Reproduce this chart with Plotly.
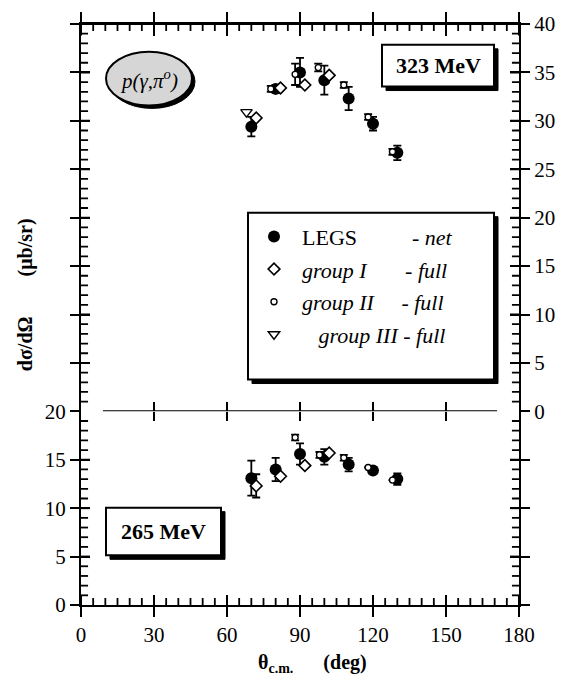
import plotly.graph_objects as go

# ---------------- data ----------------
# 323 MeV (upper panel)
legs323_x = [70, 80, 90, 100, 110, 120, 130]
legs323_y = [29.4, 33.3, 35.0, 34.2, 32.3, 29.7, 26.7]
legs323_e = [1.0, 0.4, 1.5, 1.5, 1.2, 0.7, 0.75]
g1_323_x = [72, 82, 92, 102]
g1_323_y = [30.3, 33.4, 33.7, 34.7]
g2_323_x = [78, 88, 97.5, 108, 118, 128]
g2_323_y = [33.3, 34.8, 35.5, 33.7, 30.4, 26.8]
g2_323_e = [0.3, 1.1, 0.4, 0.3, 0.3, 0.3]
g3_323_x = [68]
g3_323_y = [30.9]

# 265 MeV (lower panel)
legs265_x = [70, 80, 90, 100, 110, 120, 130]
legs265_y = [13.1, 14.0, 15.6, 15.3, 14.5, 13.9, 13.0]
legs265_e = [1.8, 1.2, 1.1, 0.8, 0.7, 0.3, 0.6]
g1_265_x = [72, 82, 92, 102]
g1_265_y = [12.3, 13.3, 14.4, 15.7]
g1_265_e = [1.2, 0.0, 0.0, 0.0]
g2_265_x = [88, 98, 108, 118, 128]
g2_265_y = [17.3, 15.5, 15.2, 14.2, 12.9]
g2_265_e = [0.3, 0.3, 0.3, 0.0, 0.0]

mid_ticks = [30, 60, 90, 120, 150]
x_major = [0, 30, 60, 90, 120, 150, 180]

# ---------------- geometry helpers (pixel -> paper) ----------------
W, H = 570, 681
L, R, T, B = 81, 519, 20, 605


def px(x):
    return (x - L) / (R - L)


def py(y):
    return (B - y) / (B - T)


FONT = "Liberation Serif"
BLACK = "black"
NB = "\u00a0"

fig = go.Figure()

err_style = dict(type="data", thickness=1.8, width=4, color=BLACK)

# LEGS
fig.add_trace(go.Scatter(x=legs323_x, y=legs323_y, xaxis="x2", yaxis="y2", mode="markers",
                         name="LEGS" + NB * 10 + "<i>- net</i>", legendgroup="a",
                         marker=dict(symbol="circle", size=12, color=BLACK),
                         error_y=dict(array=legs323_e, **err_style)))
fig.add_trace(go.Scatter(x=legs265_x, y=legs265_y, xaxis="x", yaxis="y", mode="markers",
                         showlegend=False, legendgroup="a",
                         marker=dict(symbol="circle", size=12, color=BLACK),
                         error_y=dict(array=legs265_e, **err_style)))
# group I
dia = dict(symbol="diamond", size=9, color="white", line=dict(color=BLACK, width=1.6))
fig.add_trace(go.Scatter(x=g1_323_x, y=g1_323_y, xaxis="x2", yaxis="y2", mode="markers",
                         name="<i>group I" + NB * 7 + "- full</i>", legendgroup="b",
                         marker=dia))
fig.add_trace(go.Scatter(x=g1_265_x, y=g1_265_y, xaxis="x", yaxis="y", mode="markers",
                         showlegend=False, legendgroup="b", marker=dia,
                         error_y=dict(array=g1_265_e, **err_style)))
# group II
cir = dict(symbol="circle", size=6, color="white", line=dict(color=BLACK, width=1.4))
fig.add_trace(go.Scatter(x=g2_323_x, y=g2_323_y, xaxis="x2", yaxis="y2", mode="markers",
                         name="<i>group II" + NB * 5 + "- full</i>", legendgroup="c",
                         marker=cir, error_y=dict(array=g2_323_e, **err_style)))
fig.add_trace(go.Scatter(x=g2_265_x, y=g2_265_y, xaxis="x", yaxis="y", mode="markers",
                         showlegend=False, legendgroup="c", marker=cir,
                         error_y=dict(array=g2_265_e, **err_style)))
# group III
tri = dict(symbol="triangle-down", size=10, color="white", line=dict(color=BLACK, width=1.4))
fig.add_trace(go.Scatter(x=g3_323_x, y=g3_323_y, xaxis="x2", yaxis="y2", mode="markers",
                         name=NB * 3 + "<i>group III - full</i>", legendgroup="d", marker=tri))

# dummy traces to register the overlay axes (tick duplicates)
for xa, ya in [("x3", "y"), ("x", "y3"), ("x4", "y2"), ("x2", "y4"), ("x5", "y2"), ("x6", "y2")]:
    fig.add_trace(go.Scatter(x=[None], y=[None], xaxis=xa, yaxis=ya, showlegend=False,
                             hoverinfo="skip", mode="markers"))

x_minor = [v for v in range(5, 180, 5) if v % 30]
y_minor_lo = [v for v in range(1, 20) if v % 5]
y_minor_hi = [v for v in range(1, 40) if v % 5]
y_major_lo = [5, 10, 15]
y_major_hi = [5, 10, 15, 20, 25, 30, 35]


# inward tick marks drawn as one-sided constant error bars (lengths in axis units)
def tick_trace(xs, ys, xa, ya, direction, plus, minus, width):
    err = dict(type="constant", value=plus, valueminus=minus, symmetric=False,
               thickness=width, width=0, color=BLACK)
    kw = {"error_y": err} if direction == "v" else {"error_x": err}
    fig.add_trace(go.Scatter(x=xs, y=ys, xaxis=xa, yaxis=ya, mode="markers",
                             marker=dict(size=1, color="rgba(0,0,0,0)"), showlegend=False,
                             hoverinfo="skip", cliponaxis=False, **kw))


MIN_Y, MAJ_Y = 0.72, 0.95      # vertical tick lengths (axis units ~ 7 / 9 px)
MIN_X, MAJ_X = 2.9, 3.7        # horizontal tick lengths (deg ~ 7 / 9 px)
# bottom axis
tick_trace(x_minor, [0] * len(x_minor), "x", "y", "v", MIN_Y, 0, 1.8)
tick_trace(x_major, [0] * len(x_major), "x", "y", "v", MAJ_Y, 0, 2)
# lower panel left / right
tick_trace([0] * len(y_minor_lo), y_minor_lo, "x", "y", "h", MIN_X, 0, 1.8)
tick_trace([180] * len(y_minor_lo), y_minor_lo, "x", "y", "h", 0, MIN_X, 1.8)
tick_trace([0] * len(y_major_lo), y_major_lo, "x", "y", "h", MAJ_X, 0, 2)
tick_trace([180] * len(y_major_lo), y_major_lo, "x", "y", "h", 0, MAJ_X, 2)
# top border
tick_trace(x_minor, [40] * len(x_minor), "x2", "y2", "v", 0, MIN_Y, 1.8)
tick_trace(x_major, [40] * len(x_major), "x2", "y2", "v", 0, 1.2, 2)
# upper panel left / right
tick_trace([0] * len(y_minor_hi), y_minor_hi, "x2", "y2", "h", MIN_X, 0, 1.8)
tick_trace([180] * len(y_minor_hi), y_minor_hi, "x2", "y2", "h", 0, MIN_X, 1.8)
tick_trace([0] * len(y_major_hi), y_major_hi, "x2", "y2", "h", MAJ_X, 0, 2)
tick_trace([180] * len(y_major_hi), y_major_hi, "x2", "y2", "h", 0, MAJ_X, 2)
# middle separator (upward half)
tick_trace(mid_ticks, [0] * len(mid_ticks), "x2", "y2", "v", 0.9, 0, 1.6)

tickfont = dict(family=FONT, size=21, color=BLACK)
base = dict(showgrid=False, zeroline=False, tickcolor=BLACK, tickfont=tickfont)
ov = dict(showticklabels=False, showgrid=False, zeroline=False, tickcolor=BLACK)

xr = [0, 180]
fig.update_layout(
    width=W, height=H,
    margin=dict(l=L, r=W - R, t=T, b=H - B),
    plot_bgcolor="white", paper_bgcolor="white",
    font=dict(family=FONT, color=BLACK),
    # bottom axis with labels
    xaxis=dict(domain=[0, 1], anchor="y", range=xr, dtick=30, tick0=0, ticks="outside",
               ticklen=10, tickwidth=2, showline=True, linewidth=2, linecolor=BLACK, **base),
    xaxis3=dict(overlaying="x", anchor="y", range=xr, dtick=30, tick0=0, ticks="inside",
                ticklen=10, tickwidth=2, **ov),
    # middle separator ticks
    xaxis2=dict(domain=[0, 1], anchor="y2", range=xr, tickvals=mid_ticks, ticks="outside",
                ticklen=9, tickwidth=1.6, **ov),
    xaxis4=dict(overlaying="x2", anchor="y2", range=xr, tickvals=mid_ticks, ticks="inside",
                ticklen=9, tickwidth=1.6, **ov),
    # top border
    xaxis5=dict(overlaying="x2", anchor="y2", side="top", range=xr, dtick=30, tick0=0,
                ticks="outside", ticklen=10, tickwidth=2, showline=True, linewidth=2,
                linecolor=BLACK, **ov),
    xaxis6=dict(overlaying="x2", anchor="y2", side="top", range=xr, dtick=30, tick0=0,
                ticks="inside", ticklen=12, tickwidth=2, **ov),
    # lower panel y (labels left)
    yaxis=dict(domain=[0, 1 / 3], anchor="x", range=[0, 20], dtick=5, tick0=0, ticks="outside",
               ticklen=9, tickwidth=2, showline=True, linewidth=2, linecolor=BLACK,
               mirror="ticks", **base),
    yaxis3=dict(overlaying="y", anchor="x", range=[0, 20], dtick=5, tick0=0, ticks="inside",
                ticklen=9, tickwidth=2, mirror="ticks", **ov),
    # upper panel y (labels right)
    yaxis2=dict(domain=[1 / 3, 1], anchor="x2", side="right", range=[0, 40], dtick=5, tick0=0,
                ticks="outside", ticklen=9, tickwidth=2, showline=True, linewidth=2,
                linecolor=BLACK, mirror="ticks", **base),
    yaxis4=dict(overlaying="y2", anchor="x2", side="right", range=[0, 40], dtick=5, tick0=0,
                ticks="inside", ticklen=9, tickwidth=2, mirror="ticks", **ov),
    showlegend=True,
    legend=dict(x=px(246), y=py(213), xanchor="left", yanchor="top", bgcolor="rgba(0,0,0,0)",
                borderwidth=0, font=dict(family=FONT, size=22, color=BLACK), itemwidth=46,
                traceorder="grouped", tracegroupgap=1, itemclick=False, itemdoubleclick=False),
)

shapes = []
# middle separator line
shapes.append(dict(type="line", xref="x2", yref="y2", x0=9, x1=171, y0=0, y1=0,
                   line=dict(color=BLACK, width=2), layer="above"))
# top border overhang
shapes.append(dict(type="line", xref="paper", yref="paper", x0=px(70), x1=px(530), y0=1, y1=1,
                   line=dict(color=BLACK, width=2), layer="above"))


def shadow_box(x0, y0, x1, y1, off=4, kind="rect", fill="white"):
    shapes.append(dict(type=kind, xref="paper", yref="paper", x0=px(x0 + off), x1=px(x1 + off),
                       y0=py(y0 + off), y1=py(y1 + off), fillcolor=BLACK,
                       line=dict(color=BLACK, width=1), layer="below"))
    shapes.append(dict(type=kind, xref="paper", yref="paper", x0=px(x0), x1=px(x1),
                       y0=py(y0), y1=py(y1), fillcolor=fill,
                       line=dict(color=BLACK, width=2), layer="below"))


shadow_box(382, 41, 494, 83)          # 323 MeV
shadow_box(248, 210, 494, 378)        # legend box
shadow_box(106, 507, 221, 555)        # 265 MeV
shadow_box(106, 48, 192, 102, off=3, kind="circle", fill="#d6d6d6")  # reaction ellipse

fig.update_layout(shapes=shapes)

ann_base = dict(xref="paper", yref="paper", showarrow=False, xanchor="center", yanchor="middle")
ann = [
    dict(text="<b>323 MeV</b>", x=px(438), y=py(62), font=dict(family=FONT, size=22, color=BLACK),
         **ann_base),
    dict(text="<b>265 MeV</b>", x=px(163), y=py(531), font=dict(family=FONT, size=22, color=BLACK),
         **ann_base),
    dict(text="<i>p(γ,π<sup>o</sup>)</i>", x=px(149), y=py(76),
         font=dict(family=FONT, size=21, color=BLACK), **ann_base),
    dict(text="<b>dσ/dΩ</b>" + NB * 8 + "<b>(μb/sr)</b>", x=px(25), y=py(293), textangle=-90,
         font=dict(family=FONT, size=20, color=BLACK), **ann_base),
    dict(text="<b>θ<sub>c.m.</sub></b>" + NB * 6 + "<b>(deg)</b>", x=px(312), y=py(664),
         font=dict(family=FONT, size=20, color=BLACK), **ann_base),
]
fig.update_layout(annotations=ann)

fig.write_html("out.html")
